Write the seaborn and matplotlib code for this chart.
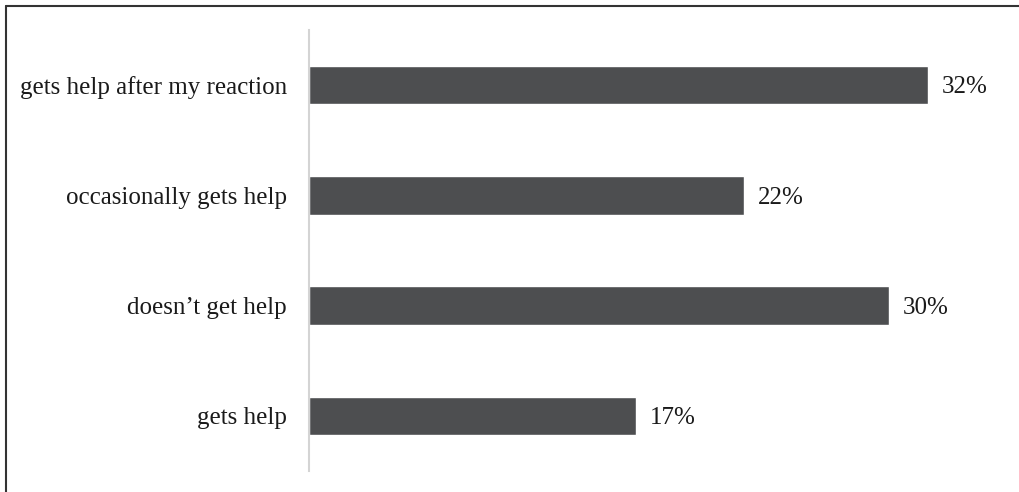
import matplotlib
matplotlib.use("Agg")
import matplotlib.pyplot as plt
import seaborn as sns
import pandas as pd
from matplotlib.lines import Line2D

# categories top to bottom, share in percent
answers = ["gets help after my reaction", "occasionally gets help", "doesn\u2019t get help", "gets help"]
shares = [32.0, 22.5, 30.0, 16.9]
share_labels = ["32%", "22%", "30%", "17%"]

df = pd.DataFrame({"answer": answers, "share": shares})

sns.set_style("white")
plt.rcParams["font.family"] = ["Liberation Serif", "DejaVu Serif"]

fig = plt.figure(figsize=(10.2, 4.92), dpi=100)
W, H = 1020, 492
ax = fig.add_axes([309 / W, 1 - 471 / H, (1000 - 309) / W, (471 - 30) / H])

sns.barplot(data=df, x="share", y="answer", color="#4d4e50", width=0.35,
            saturation=1, ax=ax, orient="h")

for i, (v, lab) in enumerate(zip(shares, share_labels)):
    ax.text(v + 0.72, i + 0.02, lab, va="center", ha="left", fontsize=18, color="#1a1a1a")

ax.set_xlim(0, (1000 - 309) / 19.34)
ax.set_ylim(3.5, -0.5)
ax.set_xlabel("")
ax.set_ylabel("")
ax.set_xticks([])
ax.tick_params(axis="y", length=0, labelsize=18, labelcolor="#1a1a1a", pad=16)
for s in ["top", "right", "bottom"]:
    ax.spines[s].set_visible(False)
ax.spines["left"].set_color("#d4d4d4")
ax.spines["left"].set_linewidth(1.5)

# partial frame around the figure (top and left edges)
fig.add_artist(Line2D([6 / W, 1], [1 - 5.5 / H, 1 - 5.5 / H], color="#333333", lw=1.5,
                      transform=fig.transFigure))
fig.add_artist(Line2D([6.5 / W, 6.5 / W], [0, 1 - 5.5 / H], color="#333333", lw=1.5,
                      transform=fig.transFigure))

fig.savefig("out.png", dpi=100)
